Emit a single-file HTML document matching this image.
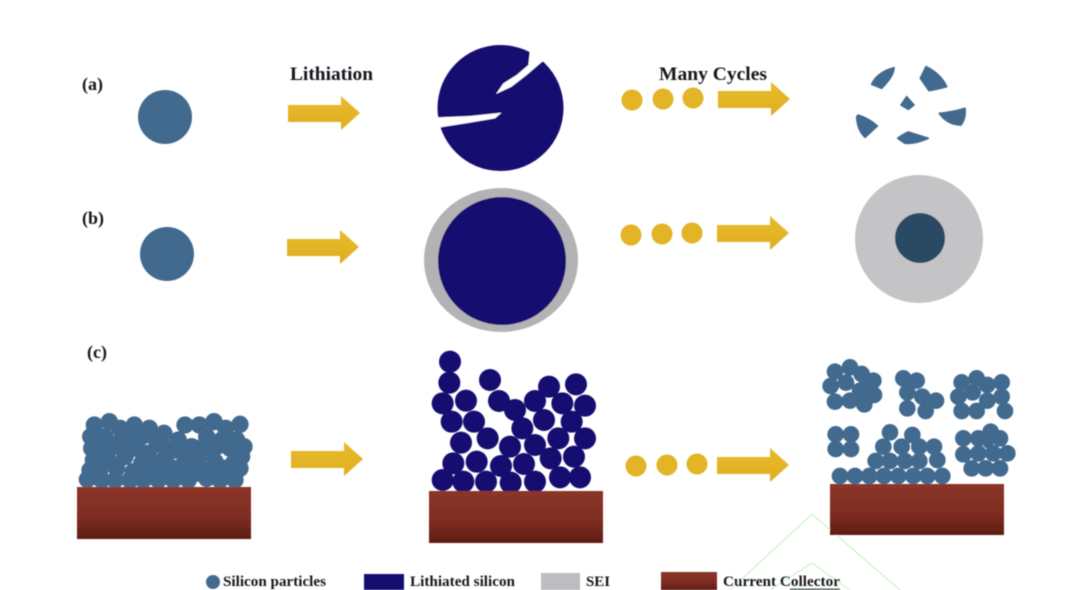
<!DOCTYPE html>
<html><head><meta charset="utf-8"><style>
html,body{margin:0;padding:0;background:#fff;width:1072px;height:590px;overflow:hidden}
svg{display:block}
text{font-family:"Liberation Serif",serif;font-weight:bold;fill:#16161e}
</style></head><body>
<svg width="1072" height="590" viewBox="0 0 1072 590" xmlns="http://www.w3.org/2000/svg">
<defs>
<linearGradient id="r" x1="0" y1="0" x2="0" y2="1"><stop offset="0" stop-color="#8b3527"/><stop offset=".55" stop-color="#7f2d22"/><stop offset="1" stop-color="#5f1d15"/></linearGradient>
<linearGradient id="y" x1="0" y1="0" x2="0" y2="1"><stop offset="0" stop-color="#e8bb2a"/><stop offset="1" stop-color="#dfae22"/></linearGradient>
<g id="arr"><path d="M0,9 H53 V0 L72,17 L53,34 V26 H0 Z" fill="url(#y)"/></g>
<filter id="b" x="-5%" y="-5%" width="110%" height="110%"><feGaussianBlur stdDeviation="0.55"/></filter>
</defs>
<rect width="1072" height="590" fill="#fff"/>
<g filter="url(#b)">
<!-- faint green watermark -->
<path d="M730,590 L812,514 L900,590 M770,590 L812,563 L850,590" fill="none" stroke="#c8f5c8" stroke-width="1.2"/>

<!-- row a -->
<circle cx="165" cy="117" r="27" fill="#436b8f"/>
<use href="#arr" x="288" y="96"/>
<circle cx="500.5" cy="108" r="63" fill="#17086f"/>
<g transform="translate(420,30) scale(.33333)" fill="#fff">
<path d="M330,60 L378,85 L320,135 L275,170 L228,192 L250,160 L290,135 L325,105 Z"/>
<path d="M35,263 L150,258 L245,248 L225,265 L150,278 L60,292 L35,296 Z"/>
</g>
<circle cx="632" cy="100" r="10.5" fill="#e3b425"/><circle cx="663" cy="99" r="10.5" fill="#e3b425"/><circle cx="693" cy="98" r="10.5" fill="#e3b425"/>
<use href="#arr" x="718" y="82"/>
<g transform="translate(840,50) scale(.33333)" fill="#436b8f" stroke="#436b8f" stroke-width="5" stroke-linejoin="round">
<path d="M95,103 Q110,68 162,53 Q162,78 125,115 Z"/>
<path d="M258,50 Q303,72 320,110 Q290,118 267,122 L241,85 Z"/>
<path d="M200,140 L222,165 L205,178 L183,165 Z"/>
<path d="M298,190 Q335,187 375,175 Q378,205 363,225 Q322,224 298,190 Z"/>
<path d="M55,195 Q90,207 112,228 L75,262 Q52,240 50,200 Z"/>
<path d="M173,265 Q190,252 205,246 L265,265 Q225,282 195,280 Z"/>
</g>

<!-- row b -->
<circle cx="167" cy="254" r="27" fill="#436b8f"/>
<use href="#arr" x="287" y="230"/>
<ellipse cx="501" cy="260" rx="77" ry="72" fill="#b3b3b5"/>
<circle cx="502" cy="261" r="64" fill="#17086f"/>
<circle cx="631" cy="235" r="10.5" fill="#e3b425"/><circle cx="662" cy="234" r="10.5" fill="#e3b425"/><circle cx="692" cy="233" r="10.5" fill="#e3b425"/>
<use href="#arr" x="717" y="216"/>
<circle cx="919" cy="239" r="64" fill="#c4c4c6"/>
<circle cx="920" cy="238" r="25" fill="#2c4a64"/>

<!-- row c left -->
<g transform="translate(60,340) scale(.33333)" fill="#436b8f" stroke="#436b8f" stroke-width="6">
<circle cx="103" cy="255" r="23"/><circle cx="148" cy="245" r="23"/><circle cx="180" cy="265" r="23"/><circle cx="223" cy="255" r="23"/><circle cx="268" cy="265" r="23"/><circle cx="312" cy="280" r="23"/><circle cx="375" cy="255" r="23"/><circle cx="418" cy="255" r="23"/><circle cx="462" cy="245" r="23"/><circle cx="497" cy="265" r="23"/><circle cx="540" cy="253" r="23"/>
<circle cx="92" cy="290" r="23"/><circle cx="135" cy="290" r="23"/><circle cx="200" cy="290" r="23"/><circle cx="245" cy="290" r="23"/><circle cx="290" cy="305" r="23"/><circle cx="355" cy="300" r="23"/><circle cx="440" cy="290" r="23"/><circle cx="485" cy="300" r="23"/><circle cx="530" cy="300" r="23"/><circle cx="552" cy="320" r="23"/>
<circle cx="110" cy="325" r="23"/><circle cx="160" cy="320" r="23"/><circle cx="220" cy="325" r="23"/><circle cx="265" cy="340" r="23"/><circle cx="330" cy="335" r="23"/><circle cx="395" cy="320" r="23"/><circle cx="450" cy="330" r="23"/><circle cx="510" cy="325" r="23"/>
<circle cx="100" cy="360" r="23"/><circle cx="145" cy="360" r="23"/><circle cx="195" cy="350" r="23"/><circle cx="245" cy="370" r="23"/><circle cx="310" cy="360" r="23"/><circle cx="375" cy="360" r="23"/><circle cx="420" cy="345" r="23"/><circle cx="465" cy="365" r="23"/><circle cx="530" cy="350" r="23"/>
<circle cx="120" cy="390" r="23"/><circle cx="170" cy="385" r="23"/><circle cx="220" cy="395" r="23"/><circle cx="285" cy="385" r="23"/><circle cx="340" cy="385" r="23"/><circle cx="395" cy="385" r="23"/><circle cx="445" cy="390" r="23"/><circle cx="495" cy="385" r="23"/><circle cx="540" cy="385" r="23"/>
<circle cx="82" cy="418" r="23"/><circle cx="125" cy="420" r="23"/><circle cx="165" cy="420" r="23"/><circle cx="210" cy="420" r="23"/><circle cx="250" cy="420" r="23"/><circle cx="295" cy="420" r="23"/><circle cx="340" cy="420" r="23"/><circle cx="385" cy="420" r="23"/><circle cx="440" cy="415" r="23"/><circle cx="480" cy="420" r="23"/><circle cx="525" cy="420" r="23"/>
<circle cx="95" cy="325" r="23"/><circle cx="90" cy="390" r="23"/><circle cx="130" cy="340" r="23"/><circle cx="250" cy="340" r="23"/><circle cx="240" cy="400" r="23"/><circle cx="310" cy="395" r="23"/><circle cx="310" cy="320" r="23"/><circle cx="370" cy="390" r="23"/><circle cx="420" cy="385" r="23"/><circle cx="470" cy="395" r="23"/><circle cx="520" cy="370" r="23"/><circle cx="545" cy="350" r="23"/><circle cx="470" cy="320" r="23"/><circle cx="350" cy="330" r="23"/><circle cx="430" cy="320" r="23"/><circle cx="535" cy="325" r="23"/><circle cx="420" cy="400" r="23"/><circle cx="350" cy="410" r="23"/><circle cx="180" cy="305" r="23"/>
</g>
<rect x="77" y="487" width="174" height="52" fill="url(#r)"/>
<use href="#arr" x="291" y="442"/>

<!-- row c middle -->
<g transform="translate(400,340) scale(.33333)" fill="#17086f">
<circle cx="150" cy="65" r="33"/><circle cx="148" cy="128" r="33"/><circle cx="128" cy="190" r="33"/><circle cx="198" cy="182" r="33"/><circle cx="270" cy="120" r="33"/><circle cx="297" cy="183" r="33"/><circle cx="345" cy="210" r="33"/><circle cx="405" cy="183" r="33"/><circle cx="447" cy="140" r="33"/><circle cx="528" cy="133" r="33"/><circle cx="487" cy="190" r="33"/><circle cx="555" cy="197" r="33"/>
<circle cx="155" cy="245" r="33"/><circle cx="222" cy="245" r="33"/><circle cx="432" cy="240" r="33"/><circle cx="515" cy="245" r="33"/><circle cx="367" cy="265" r="33"/><circle cx="263" cy="295" r="33"/><circle cx="183" cy="308" r="33"/><circle cx="330" cy="320" r="33"/><circle cx="405" cy="315" r="33"/><circle cx="475" cy="295" r="33"/><circle cx="555" cy="295" r="33"/>
<circle cx="160" cy="370" r="33"/><circle cx="230" cy="365" r="33"/><circle cx="303" cy="378" r="33"/><circle cx="372" cy="372" r="33"/><circle cx="452" cy="355" r="33"/><circle cx="522" cy="350" r="33"/>
<circle cx="128" cy="420" r="33"/><circle cx="190" cy="425" r="33"/><circle cx="258" cy="425" r="33"/><circle cx="332" cy="428" r="33"/><circle cx="405" cy="425" r="33"/><circle cx="480" cy="412" r="33"/><circle cx="540" cy="412" r="33"/>
</g>
<rect x="429" y="491" width="174" height="52" fill="url(#r)"/>
<circle cx="636" cy="466" r="10.5" fill="#e3b425"/><circle cx="667" cy="465" r="10.5" fill="#e3b425"/><circle cx="697" cy="464" r="10.5" fill="#e3b425"/>
<use href="#arr" x="717" y="448"/>

<!-- row c right -->
<g transform="translate(780,350) scale(.33333)" fill="#436b8f" stroke="#436b8f" stroke-width="4">
<circle cx="165" cy="65" r="23"/><circle cx="210" cy="52" r="23"/><circle cx="245" cy="72" r="23"/><circle cx="280" cy="92" r="23"/><circle cx="152" cy="108" r="23"/><circle cx="198" cy="98" r="23"/><circle cx="262" cy="100" r="23"/><circle cx="240" cy="122" r="23"/><circle cx="282" cy="135" r="23"/><circle cx="165" cy="155" r="23"/><circle cx="210" cy="152" r="23"/><circle cx="253" cy="163" r="23"/>
<circle cx="370" cy="85" r="23"/><circle cx="410" cy="92" r="23"/><circle cx="382" cy="127" r="23"/><circle cx="427" cy="140" r="23"/><circle cx="468" cy="152" r="23"/><circle cx="382" cy="175" r="23"/><circle cx="437" cy="183" r="23"/>
<circle cx="545" cy="97" r="23"/><circle cx="590" cy="85" r="23"/><circle cx="622" cy="105" r="23"/><circle cx="665" cy="97" r="23"/><circle cx="578" cy="127" r="23"/><circle cx="535" cy="140" r="23"/><circle cx="622" cy="152" r="23"/><circle cx="665" cy="140" r="23"/><circle cx="545" cy="183" r="23"/><circle cx="590" cy="183" r="23"/><circle cx="675" cy="183" r="23"/>
<circle cx="167" cy="253" r="23"/><circle cx="213" cy="253" r="23"/><circle cx="167" cy="297" r="23"/><circle cx="213" cy="297" r="23"/>
<circle cx="330" cy="247" r="23"/><circle cx="397" cy="255" r="23"/><circle cx="310" cy="290" r="23"/><circle cx="365" cy="290" r="23"/><circle cx="418" cy="290" r="23"/><circle cx="462" cy="290" r="23"/><circle cx="287" cy="333" r="23"/><circle cx="330" cy="333" r="23"/><circle cx="375" cy="333" r="23"/><circle cx="418" cy="333" r="23"/><circle cx="472" cy="330" r="23"/>
<circle cx="180" cy="378" r="23"/><circle cx="225" cy="378" r="23"/><circle cx="268" cy="378" r="23"/><circle cx="312" cy="378" r="23"/><circle cx="355" cy="378" r="23"/><circle cx="400" cy="378" r="23"/><circle cx="442" cy="378" r="23"/><circle cx="487" cy="378" r="23"/>
<circle cx="632" cy="245" r="23"/><circle cx="550" cy="265" r="23"/><circle cx="595" cy="265" r="23"/><circle cx="660" cy="265" r="23"/><circle cx="625" cy="280" r="14"/><circle cx="550" cy="313" r="23"/><circle cx="595" cy="310" r="23"/><circle cx="640" cy="310" r="23"/><circle cx="682" cy="310" r="23"/><circle cx="575" cy="355" r="23"/><circle cx="617" cy="355" r="23"/><circle cx="660" cy="355" r="23"/>
</g>
<rect x="830" y="484" width="174" height="51" fill="url(#r)"/>

<!-- legend shapes -->
<circle cx="213" cy="582" r="7" fill="#436b8f"/>
<rect x="364" y="574" width="40" height="16" fill="#17086f"/>
<rect x="541" y="573" width="39" height="17" fill="#bdbdbf"/>
<rect x="661" y="572" width="56" height="18" fill="url(#r)"/>
<rect x="790" y="588.5" width="50" height="1.5" fill="#55605a"/>

<!-- text -->
<text x="82" y="90" font-size="18">(a)</text>
<text x="82" y="224" font-size="18">(b)</text>
<text x="87" y="358" font-size="18">(c)</text>
<text x="290" y="80" font-size="19" textLength="83" lengthAdjust="spacingAndGlyphs">Lithiation</text>
<text x="659" y="80" font-size="19" textLength="108" lengthAdjust="spacingAndGlyphs">Many Cycles</text>
<text x="223" y="586" font-size="15" textLength="103" lengthAdjust="spacingAndGlyphs">Silicon particles</text>
<text x="410" y="586" font-size="15" textLength="105" lengthAdjust="spacingAndGlyphs">Lithiated silicon</text>
<text x="586" y="586" font-size="15" textLength="24" lengthAdjust="spacingAndGlyphs">SEI</text>
<text x="723" y="586" font-size="15" textLength="117" lengthAdjust="spacingAndGlyphs">Current Collector</text>
</g>
</svg>
</body></html>
